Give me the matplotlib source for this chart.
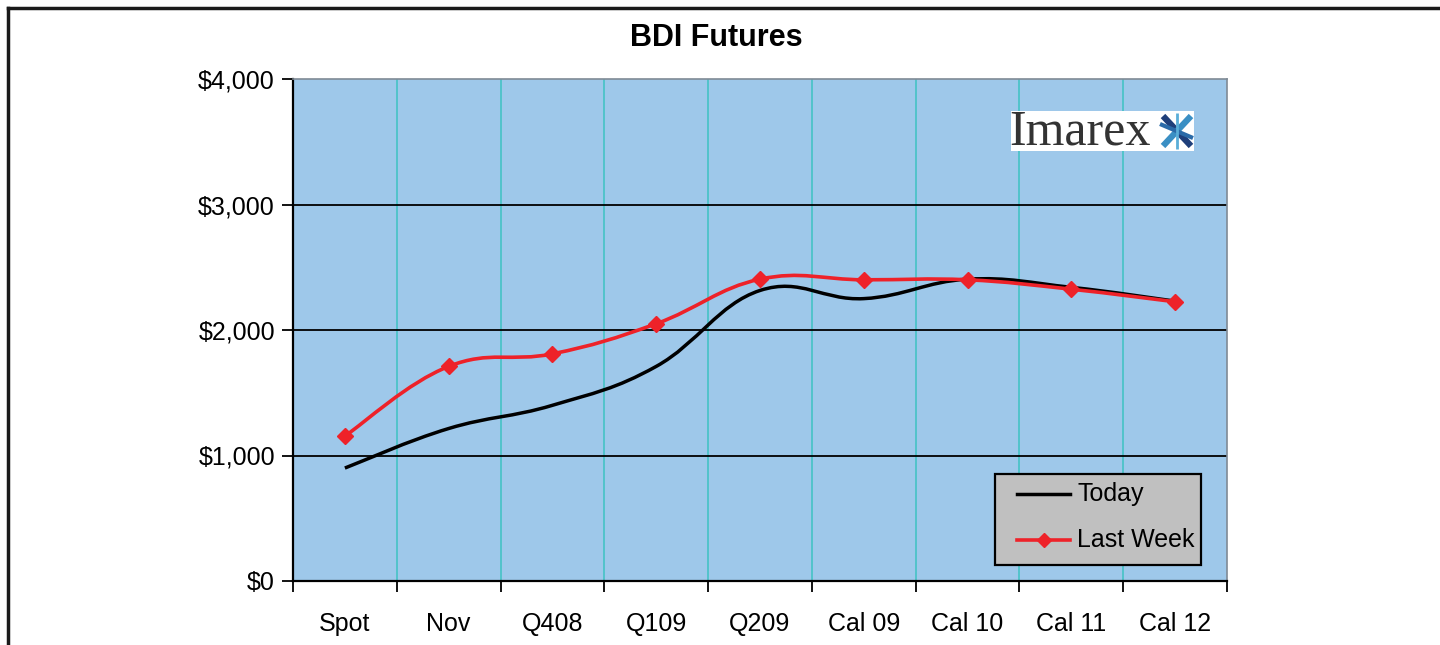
import matplotlib
matplotlib.use("Agg")
import matplotlib.pyplot as plt
from matplotlib.path import Path
from matplotlib.patches import PathPatch, Rectangle
from matplotlib.lines import Line2D
import numpy as np

categories = ["Spot", "Nov", "Q408", "Q109", "Q209", "Cal 09", "Cal 10", "Cal 11", "Cal 12"]
today = [900, 1215, 1400, 1710, 2315, 2250, 2405, 2340, 2230]
last_week = [1155, 1710, 1810, 2050, 2405, 2400, 2400, 2325, 2225]
y_ticks = [0, 1000, 2000, 3000, 4000]
y_labels = ["$0", "$1,000", "$2,000", "$3,000", "$4,000"]
series_names = ["Today", "Last Week"]

FONT = ["Liberation Sans Narrow", "Liberation Sans", "DejaVu Sans"]
plt.rcParams["font.family"] = FONT

W, H = 1440, 645
fig = plt.figure(figsize=(W / 100, H / 100), dpi=100)
fig.patch.set_facecolor("white")


def fx(px):
    return px / W


def fy(py):
    return 1 - py / H


# outer frame (top and left)
fig.add_artist(Line2D([fx(8), 1.0], [fy(8), fy(8)], color="#1a1a1a", lw=2.5, transform=fig.transFigure))
fig.add_artist(Line2D([fx(8), fx(8)], [0, fy(8)], color="#1a1a1a", lw=2.5, transform=fig.transFigure))

ax = fig.add_axes([fx(293), fy(581), (1227 - 293) / W, (581 - 79) / H])
ax.set_facecolor("#9ec8ea")
n = len(categories)
xs = np.arange(n) + 0.5
ax.set_xlim(0, n)
ax.set_ylim(0, 4000)

# grid
for i in range(1, n):
    ax.axvline(i, color="#4cc3c8", lw=1.3, zorder=1)
for v in y_ticks[1:-1]:
    ax.axhline(v, color="black", lw=1.3, zorder=1)

for side in ["top", "right"]:
    ax.spines[side].set_color("#7f8a95")
    ax.spines[side].set_linewidth(1.2)
for side in ["left", "bottom"]:
    ax.spines[side].set_color("black")
    ax.spines[side].set_linewidth(1.6)

ax.set_yticks(y_ticks)
ax.set_yticklabels(y_labels)
ax.tick_params(axis="y", length=8, width=1.3, direction="out", labelsize=18, pad=5)
ax.set_xticks(np.arange(n + 1))
ax.set_xticklabels([])
ax.tick_params(axis="x", which="major", length=8, width=1.3, direction="out")
ax.set_xticks(xs, minor=True)
ax.set_xticklabels(categories, minor=True)
ax.tick_params(axis="x", which="minor", length=0, labelsize=18, pad=22)


def smooth_path(x, y, t=1 / 5):
    pts = np.column_stack([x, y]).astype(float)
    verts = [pts[0]]
    codes = [Path.MOVETO]
    m = len(pts)
    for i in range(m - 1):
        p0 = pts[i - 1] if i > 0 else pts[i]
        p1 = pts[i]
        p2 = pts[i + 1]
        p3 = pts[i + 2] if i + 2 < m else pts[i + 1]
        c1 = p1 + (p2 - p0) * t
        c2 = p2 - (p3 - p1) * t
        verts += [c1, c2, p2]
        codes += [Path.CURVE4] * 3
    return Path(verts, codes)


RED = "#ee2229"
ax.add_patch(PathPatch(smooth_path(xs, today), fill=False, edgecolor="black", lw=2.5, zorder=3, capstyle="butt"))
ax.add_patch(PathPatch(smooth_path(xs, last_week), fill=False, edgecolor=RED, lw=2.6, zorder=4, capstyle="butt"))
ax.plot(xs, last_week, linestyle="none", marker="D", markersize=8, color=RED, zorder=5)

# legend box (drawn in figure pixels)
fig.add_artist(Rectangle((fx(995), fy(565)), (1201 - 995) / W, (565 - 474) / H, facecolor="#c0c0c0",
                         edgecolor="black", lw=1.6, transform=fig.transFigure, zorder=10))
fig.add_artist(Line2D([fx(1017), fx(1070)], [fy(494), fy(494)], color="black", lw=2.5,
                      transform=fig.transFigure, zorder=11))
fig.add_artist(Line2D([fx(1017), fx(1070)], [fy(540), fy(540)], color=RED, lw=2.6,
                      transform=fig.transFigure, zorder=11))
fig.add_artist(Line2D([fx(1043.5)], [fy(540)], color=RED, marker="D", markersize=7, linestyle="none",
                      transform=fig.transFigure, zorder=12))
fig.text(fx(1077), fy(494), series_names[0], ha="left", va="center", fontsize=18, zorder=12)
fig.text(fx(1077), fy(540), series_names[1], ha="left", va="center", fontsize=18, zorder=12)

# title
fig.text(fx(716), fy(38), "BDI Futures", ha="center", va="center", fontsize=22, fontweight="bold")

# Imarex logo
fig.add_artist(Rectangle((fx(1011), fy(151)), (1194 - 1011) / W, 40 / H, facecolor="white",
                         edgecolor="none", transform=fig.transFigure, zorder=20))
fig.text(fx(1009), fy(132), "Imarex", ha="left", va="center", fontsize=36,
         family=["Liberation Serif", "DejaVu Serif"], color="#333333", zorder=21)
strokes = [((1163, 116), (1191, 146), "#1f3f7a", 4.5),
           ((1191, 116), (1163, 146), "#3a8fc4", 4.5),
           ((1160, 124), (1193, 138), "#2a6aa8", 3.0),
           ((1177, 113), (1177, 149), "#5aaed8", 2.0)]
for (x0, y0), (x1, y1), c, lw in strokes:
    fig.add_artist(Line2D([fx(x0), fx(x1)], [fy(y0), fy(y1)], color=c, lw=lw,
                          transform=fig.transFigure, zorder=22, solid_capstyle="butt"))

fig.savefig("out.png", dpi=100, facecolor="white")
